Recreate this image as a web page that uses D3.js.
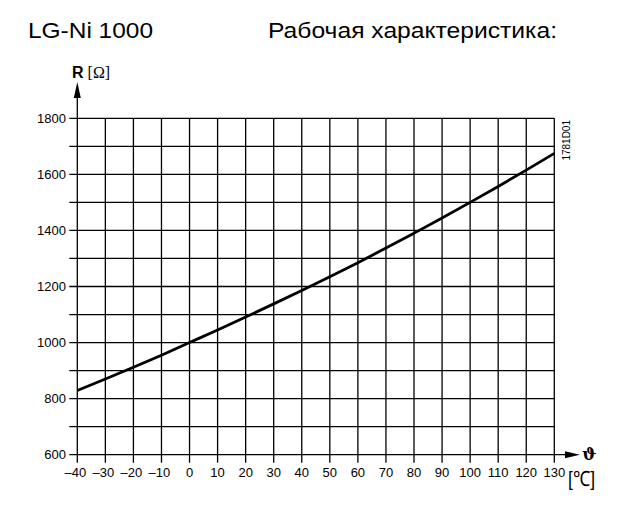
<!DOCTYPE html>
<html>
<head>
<meta charset="utf-8">
<script src="https://cdn.jsdelivr.net/npm/d3@7"></script>
<style>
  body { margin: 0; background: #fff; }
  svg { display: block; font-family: "Liberation Sans", Arial, sans-serif; }
</style>
</head>
<body>
<script>
// LG-Ni 1000 characteristic
var temps = [-40, -30, -20, -10, 0, 10, 20, 30, 40, 50, 60, 70, 80, 90, 100, 110, 120, 130];
var resist = [829, 870, 912, 955, 1000, 1045, 1091, 1138, 1186, 1235, 1285, 1337, 1390, 1444, 1500, 1557, 1615, 1675];
var xTicks = [-40, -30, -20, -10, 0, 10, 20, 30, 40, 50, 60, 70, 80, 90, 100, 110, 120, 130];
var yTicks = [600, 700, 800, 900, 1000, 1100, 1200, 1300, 1400, 1500, 1600, 1700, 1800];
var yLabels = [600, 800, 1000, 1200, 1400, 1600, 1800];

var width = 640, height = 516;

var svg = d3.select("body").append("svg")
    .attr("width", width)
    .attr("height", height);

// scales
var x = d3.scaleLinear().domain([-40, 130]).range([77.3, 554.3]);
var y = d3.scaleLinear().domain([600, 1800]).range([454.7, 118.3]);

// titles
svg.append("text")
    .attr("x", 28).attr("y", 37.5)
    .attr("font-size", 22)
    .attr("textLength", 125)
    .attr("lengthAdjust", "spacingAndGlyphs")
    .text("LG-Ni 1000");

svg.append("text")
    .attr("x", 268).attr("y", 37.5)
    .attr("font-size", 22)
    .attr("textLength", 289)
    .attr("lengthAdjust", "spacingAndGlyphs")
    .text("Рабочая характеристика:");

// grid
var grid = svg.append("g").attr("stroke", "#000").attr("stroke-width", 1.3);

grid.selectAll(".v")
    .data(xTicks)
    .enter().append("line")
    .attr("x1", function(d) { return x(d); })
    .attr("x2", function(d) { return x(d); })
    .attr("y1", y(1800))
    .attr("y2", y(600) + 8);

grid.selectAll(".h")
    .data(yTicks)
    .enter().append("line")
    .attr("x1", x(-40) - 8)
    .attr("x2", function(d) { return d == 600 ? x(130) + 12 : x(130); })
    .attr("y1", function(d) { return y(d); })
    .attr("y2", function(d) { return y(d); });

// y axis going up to arrow
grid.append("line")
    .attr("x1", x(-40)).attr("x2", x(-40))
    .attr("y1", y(1800)).attr("y2", 97);

// arrows
svg.append("path")
    .attr("d", "M" + x(-40) + ",82 L" + (x(-40) - 3.5) + ",98 L" + (x(-40) + 3.5) + ",98 Z")
    .attr("fill", "#000");

svg.append("path")
    .attr("d", "M580," + y(600) + " L565," + (y(600) - 3.5) + " L565," + (y(600) + 3.5) + " Z")
    .attr("fill", "#000");

// tick labels
svg.selectAll(".xl")
    .data(xTicks)
    .enter().append("text")
    .attr("x", function(d) { return x(d) + (d < 0 ? -2 : 0); })
    .attr("y", 477)
    .attr("text-anchor", "middle")
    .attr("font-size", 13)
    .text(function(d) { return d < 0 ? "\u2013" + Math.abs(d) : d; });

svg.selectAll(".yl")
    .data(yLabels)
    .enter().append("text")
    .attr("x", 66)
    .attr("y", function(d) { return y(d) + 4.6; })
    .attr("text-anchor", "end")
    .attr("font-size", 13)
    .text(function(d) { return d; });

// axis titles
var rt = svg.append("text")
    .attr("x", 72).attr("y", 77.5)
    .attr("font-size", 16);
rt.append("tspan").attr("font-weight", "bold").text("R");
rt.append("tspan").attr("font-family", "Liberation Serif, serif").text(" [\u03A9]");

svg.append("text")
    .attr("x", 582).attr("y", 460)
    .attr("font-size", 17)
    .attr("font-weight", "bold")
    .attr("font-family", "DejaVu Serif, serif")
    .text("\u03D1");

svg.append("text")
    .attr("x", 568).attr("y", 486)
    .attr("font-size", 21)
    .attr("textLength", 27)
    .attr("lengthAdjust", "spacingAndGlyphs")
    .text("[\u2103]");

// figure id
svg.append("text")
    .attr("transform", "translate(570,120) rotate(-90)")
    .attr("text-anchor", "end")
    .attr("font-size", 10)
    .text("1781D01");

// curve
var line = d3.line()
    .x(function(d, i) { return x(temps[i]); })
    .y(function(d) { return y(d); })
    .curve(d3.curveMonotoneX);

svg.append("path")
    .datum(resist)
    .attr("d", line)
    .attr("fill", "none")
    .attr("stroke", "#000")
    .attr("stroke-width", 2.8);
</script>
</body>
</html>
